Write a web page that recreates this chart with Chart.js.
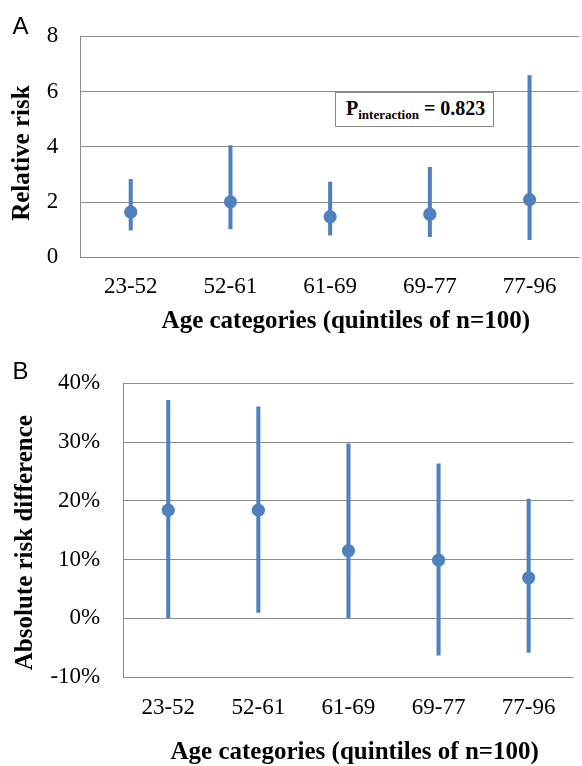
<!DOCTYPE html>
<html>
<head>
<meta charset="utf-8">
<script src="https://cdn.jsdelivr.net/npm/chart.js@4.4.1/dist/chart.umd.min.js"></script>
<style>
  html, body { margin: 0; padding: 0; background: #fff; overflow: hidden; }
  #page { position: relative; width: 582px; height: 766px; overflow: hidden; }
  .panel { position: absolute; left: 0; }
  .tag { position: absolute; left: 12.5px; font-family: 'Liberation Sans', Arial, sans-serif; font-size: 24px; line-height: 24px; color: #000; }
  #pbox { position: absolute; left: 335px; top: 92px; width: 157px; height: 33px; border: 1.5px solid #8a8a8a; background: #fff;
          font-family: 'Liberation Serif', serif; font-weight: bold; color: #000; }
  #pbox span.txt { position: absolute; left: 10px; top: 5px; font-size: 20px; line-height: 20px; white-space: nowrap; }
  #pbox sub { font-size: 13px; vertical-align: -3.6px; line-height: 0; }
</style>
</head>
<body>
<div id="page">
  <div class="panel" style="top:0;width:586px;height:340px;"><canvas id="chartA"></canvas></div>
  <div class="panel" style="top:340px;width:582px;height:428px;"><canvas id="chartB"></canvas></div>
  <div class="tag" style="top:13.6px;">A</div>
  <div class="tag" style="top:358.6px;">B</div>
  <div id="pbox"><span class="txt">P<sub>interaction</sub> = 0.823</span></div>
</div>
<script>
// Age quintiles (n=100 each)
const ageGroups = ['23-52', '52-61', '61-69', '69-77', '77-96'];

// Panel A: relative risk with 95% CI
const rrPoint = [1.64, 2.01, 1.47, 1.56, 2.09];
const rrLower = [0.98, 1.03, 0.80, 0.75, 0.64];
const rrUpper = [2.82, 4.05, 2.72, 3.26, 6.58];
const rrTicks = [0, 2, 4, 6, 8];

// Panel B: absolute risk difference (%) with 95% CI
const rdPoint = [18.4, 18.4, 11.5, 9.9, 6.9];
const rdLower = [0.0, 1.0, 0.0, -6.3, -5.8];
const rdUpper = [37.1, 36.0, 29.7, 26.3, 20.3];
const rdTicks = [-10, 0, 10, 20, 30, 40];

const xTitle = 'Age categories (quintiles of n=100)';
const BLUE = '#4f81bd';
const GRID = '#8c8c8c';
const SERIF = "'Liberation Serif', 'Times New Roman', serif";

function buildPanel(id, opts) {
    const ctx = document.getElementById(id).getContext('2d');
    return new Chart(ctx, {
        type: 'bar',
        data: {
            labels: ageGroups,
            datasets: [
                {
                    // confidence interval drawn as thin floating bar
                    data: ageGroups.map((_, i) => [opts.lower[i], opts.upper[i]]),
                    backgroundColor: BLUE,
                    borderWidth: 0,
                    barThickness: 3.4,
                    order: 2
                },
                {
                    type: 'line',
                    data: opts.point,
                    showLine: false,
                    pointRadius: 6.6,
                    pointBackgroundColor: BLUE,
                    pointBorderWidth: 0,
                    order: 1
                }
            ]
        },
        options: {
            responsive: true,
            maintainAspectRatio: false,
            animation: false,
            layout: { padding: opts.padding },
            plugins: { legend: { display: false }, tooltip: { enabled: false } },
            scales: {
                x: {
                    grid: { display: false, drawTicks: false },
                    border: { display: false },
                    ticks: { color: '#000', padding: opts.xTickPad, font: { family: SERIF, size: 23 }, maxRotation: 0 },
                    title: {
                        display: true, text: opts.xTitle, color: '#000',
                        padding: { top: 0, bottom: opts.xTitlePad },
                        font: { family: SERIF, size: 25, weight: 'bold' }
                    },
                    afterFit: (s) => { s.height = opts.xHeight; }
                },
                y: {
                    min: opts.ticks[0],
                    max: opts.ticks[opts.ticks.length - 1],
                    afterBuildTicks: (s) => { s.ticks = opts.ticks.map(v => ({ value: v })); },
                    grid: { color: GRID, lineWidth: 1, drawTicks: false },
                    border: { display: true, color: GRID, width: 1 },
                    ticks: {
                        color: '#000', padding: opts.yTickPad,
                        font: { family: SERIF, size: 23 },
                        callback: opts.fmt
                    },
                    title: {
                        display: true, text: opts.yTitle, color: '#000',
                        padding: { top: opts.yTitlePad, bottom: 0 },
                        font: { family: SERIF, size: 25, weight: 'bold' }
                    },
                    afterFit: (s) => { s.width = opts.yWidth; }
                }
            }
        }
    });
}

buildPanel('chartA', {
    point: rrPoint, lower: rrLower, upper: rrUpper, ticks: rrTicks,
    fmt: v => v,
    yTitle: 'Relative risk  ',
    xTitle: '     ' + xTitle,
    padding: { top: 25.3, right: 0, bottom: 0, left: 0 },
    yWidth: 80.9, xHeight: 82.7,
    yTickPad: 22.6, xTickPad: 16.2,
    xTitlePad: 3.3, yTitlePad: 8
});

buildPanel('chartB', {
    point: rdPoint, lower: rdLower, upper: rdUpper, ticks: rdTicks,
    fmt: v => v + '%',
    yTitle: 'Absolute risk difference    ',
    xTitle: '  ' + xTitle,
    padding: { top: 43.3, right: 8.3, bottom: 0, left: 0 },
    yWidth: 123.2, xHeight: 91,
    yTickPad: 23, xTickPad: 17.5,
    xTitlePad: 0, yTitlePad: 11
});
</script>
</body>
</html>
